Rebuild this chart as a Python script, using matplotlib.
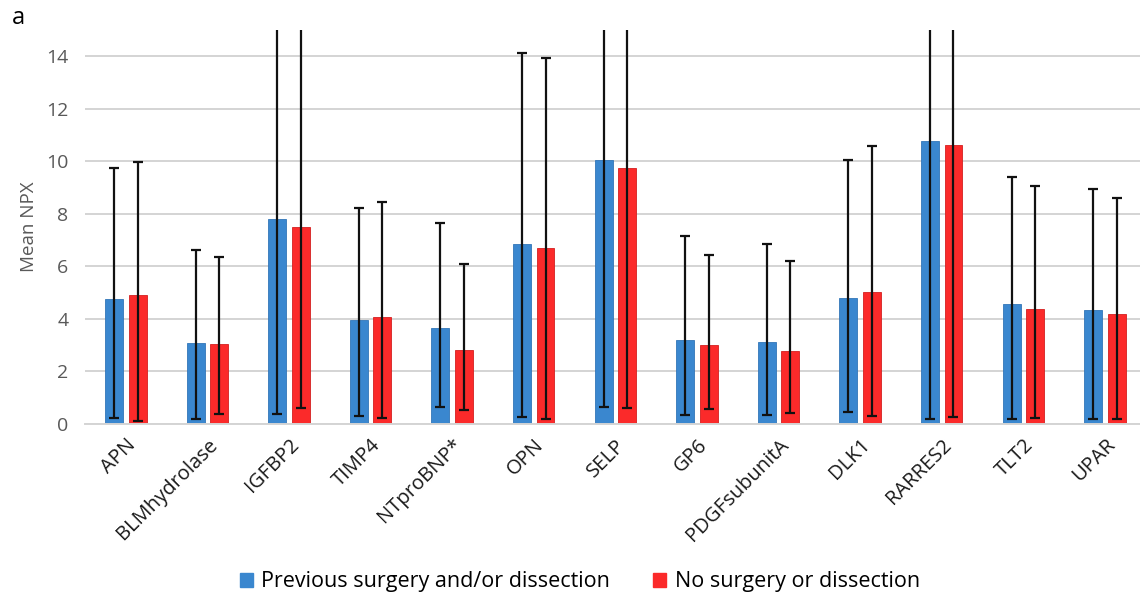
import numpy as np
import matplotlib
matplotlib.use("Agg")
from matplotlib import pyplot as plt
from matplotlib.patches import Patch

plt.rcParams['font.family'] = ['Open Sans', 'DejaVu Sans']

proteins = ["APN", "BLMhydrolase", "IGFBP2", "TIMP4", "NTproBNP*", "OPN", "SELP",
            "GP6", "PDGFsubunitA", "DLK1", "RARRES2", "TLT2", "UPAR"]

# mean NPX per group
surgery_mean = [4.75, 3.09, 7.79, 3.96, 3.65, 6.87, 10.04, 3.20, 3.12, 4.80, 10.76, 4.57, 4.34]
no_surgery_mean = [4.90, 3.04, 7.49, 4.07, 2.82, 6.69, 9.73, 3.01, 2.78, 5.01, 10.61, 4.38, 4.19]

# whisker ends (low / high)
surgery_low = [0.22, 0.18, 0.37, 0.30, 0.66, 0.25, 0.63, 0.35, 0.35, 0.47, 0.18, 0.18, 0.18]
surgery_high = [9.75, 6.61, 16.5, 8.23, 7.66, 14.12, 19.0, 7.16, 6.86, 10.05, 21.0, 9.40, 8.95]
no_surgery_low = [0.13, 0.37, 0.60, 0.23, 0.52, 0.20, 0.60, 0.58, 0.43, 0.32, 0.25, 0.22, 0.18]
no_surgery_high = [9.96, 6.37, 16.0, 8.46, 6.09, 13.92, 18.5, 6.43, 6.22, 10.58, 20.5, 9.06, 8.60]

blue = "#3a87cf"
red = "#fb2a2a"

fig = plt.figure(figsize=(11.4, 6.02), dpi=100)
ax = fig.add_axes([85 / 1140, 178 / 602, 1055 / 1140, 394 / 602])

x = np.arange(len(proteins))
off = 0.144
w = 0.22

sm = np.array(surgery_mean)
nm = np.array(no_surgery_mean)
s_err = [sm - np.array(surgery_low), np.array(surgery_high) - sm]
n_err = [nm - np.array(no_surgery_low), np.array(no_surgery_high) - nm]

ax.bar(x - off, sm, w, color=blue, edgecolor="#3276b8", linewidth=0.6, zorder=2)
ax.bar(x + off, nm, w, color=red, edgecolor="#d42020", linewidth=0.6, zorder=2)
ax.errorbar(x - off, sm, yerr=s_err, fmt="none", ecolor="#111111",
            elinewidth=1.6, capsize=3.8, capthick=1.6, zorder=3)
ax.errorbar(x + off, nm, yerr=n_err, fmt="none", ecolor="#111111",
            elinewidth=1.6, capsize=3.8, capthick=1.6, zorder=3)

ax.set_xlim(-0.5, 12.43)
ax.set_ylim(0, 15)
ax.set_yticks(range(0, 16, 2))
ax.grid(axis="y", color="#d4d4d4", linewidth=1.4, zorder=0)
ax.set_axisbelow(True)
for s in ["top", "right", "left"]:
    ax.spines[s].set_visible(False)
ax.spines["bottom"].set_color("#d4d4d4")
ax.spines["bottom"].set_linewidth(1.4)
ax.tick_params(axis="both", length=0)
ax.tick_params(axis="y", labelsize=14, labelcolor="#595959", pad=12)

ax.set_xticks(x)
ax.set_xticklabels(proteins, rotation=45, ha="right", rotation_mode="anchor",
                   fontsize=14.5, color="#1a1a1a")
ax.tick_params(axis="x", pad=8)

ax.set_ylabel("Mean NPX", fontsize=13.5, color="#595959", labelpad=6)

fig.text(12 / 1140, 1 - 18 / 602, "a", fontsize=17, color="black", va="center")

handles = [Patch(facecolor=blue, edgecolor=blue), Patch(facecolor=red, edgecolor=red)]
fig.legend(handles, ["Previous surgery and/or dissection", "No surgery or dissection"],
           loc="center", bbox_to_anchor=(580 / 1140, 1 - 582 / 602), ncol=2,
           frameon=False, fontsize=15.5, handlelength=0.6, handleheight=0.6,
           handletextpad=0.4, columnspacing=2.0)

fig.savefig("out.png", dpi=100)
